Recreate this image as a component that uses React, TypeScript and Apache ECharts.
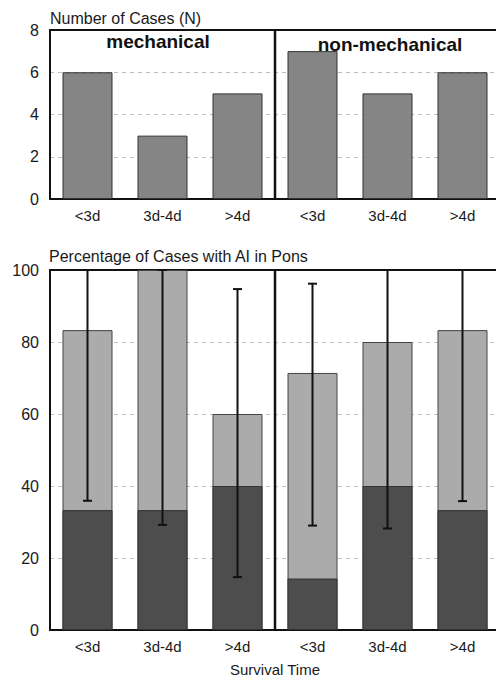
import React, { useEffect, useRef } from "react";
import * as echarts from "echarts";

const categories = ["<3d", "3d-4d", ">4d", "<3d", "3d-4d", ">4d"];
const groupLabels = ["mechanical", "non-mechanical"];
const groupSize = 3;
const caseCounts = [6, 3, 5, 7, 5, 6];
const pctTotal = [83.3, 100, 60, 71.4, 80, 83.3];
const pctPons = [33.3, 33.3, 40, 14.3, 40, 33.3];
const ciLow = [35.9, 29.2, 14.7, 29.0, 28.2, 35.8];
const ciHigh = [100, 100, 94.7, 96.2, 100, 100];
const topTicks = { min: 0, max: 8, interval: 2 };
const bottomTicks = { min: 0, max: 100, interval: 20 };

const FONT = "'Liberation Sans', Arial, sans-serif";

export default function App() {
  const ref = useRef<HTMLDivElement>(null);

  useEffect(() => {
    document.body.style.margin = "0";
    if (!ref.current) return;
    const chart = echarts.init(ref.current, undefined, { renderer: "svg" });

    const gridLine = { show: true, lineStyle: { color: "#bdbdbd", type: [4, 4] as any, width: 1 } };
    const xAxisBase = (gridIndex: number) => ({
      type: "category",
      gridIndex,
      data: categories,
      axisTick: { show: false },
      axisLine: { show: true, lineStyle: { color: "#111", width: 2 } },
      axisLabel: { color: "#1a1a1a", fontSize: 15, fontFamily: FONT, margin: 9 },
      splitLine: { show: false },
    });
    const topAxis = (gridIndex: number) => ({
      type: "category",
      gridIndex,
      position: "top",
      data: categories,
      axisTick: { show: false },
      axisLabel: { show: false },
      axisLine: { show: true, onZero: false, lineStyle: { color: "#111", width: 2 } },
      splitLine: { show: false },
    });
    const yAxisBase = (gridIndex: number, t: any) => ({
      type: "value",
      gridIndex,
      min: t.min,
      max: t.max,
      interval: t.interval,
      axisTick: { show: false },
      axisLine: { show: true, lineStyle: { color: "#111", width: 2 } },
      axisLabel: { color: "#1a1a1a", fontSize: 16, fontFamily: FONT, margin: 11 },
      splitLine: { ...gridLine, showMaxLine: false, showMinLine: false },
    });

    const dividerSeries = (axisIndex: number, t: any) => ({
      type: "custom",
      xAxisIndex: axisIndex,
      yAxisIndex: axisIndex,
      z: 4,
      silent: true,
      data: [[groupSize - 1, t.min, t.max]],
      encode: { x: 0, y: [1, 2] },
      renderItem: (_params: any, api: any) => {
        const bw = api.size([1, 0])[0];
        const a = api.coord([api.value(0), api.value(1)]);
        const b = api.coord([api.value(0), api.value(2)]);
        const x = a[0] + bw / 2;
        return {
          type: "line",
          shape: { x1: x, y1: a[1], x2: x, y2: b[1] },
          style: { stroke: "#111", lineWidth: 2.5 },
        };
      },
    });

    const titleStyle = { fontSize: 16, fontWeight: "normal", color: "#1a1a1a", fontFamily: FONT };

    chart.setOption({
      animation: false,
      backgroundColor: "#fff",
      title: [
        { text: "Number of Cases (N)", left: 50, top: 10, padding: 0, textStyle: titleStyle },
        { text: "Percentage of Cases with AI in Pons", left: 49, top: 248, padding: 0, textStyle: titleStyle },
      ],
      grid: [
        { left: 50, top: 30, width: 450, height: 169, outerBoundsMode: "none", containLabel: false },
        { left: 50, top: 270, width: 450, height: 360, outerBoundsMode: "none", containLabel: false },
      ],
      xAxis: [
        xAxisBase(0),
        {
          ...xAxisBase(1),
          name: "Survival Time",
          nameLocation: "middle",
          nameGap: 32,
          nameTextStyle: { fontSize: 15, color: "#1a1a1a", fontFamily: FONT },
        },
        topAxis(0),
        topAxis(1),
      ],
      yAxis: [yAxisBase(0, topTicks), yAxisBase(1, bottomTicks)],
      graphic: [
        {
          type: "text",
          x: 158,
          y: 41,
          z: 10,
          style: {
            text: groupLabels[0],
            fontSize: 19,
            fontWeight: "bold",
            fontFamily: FONT,
            fill: "#111",
            align: "center",
            verticalAlign: "middle",
          },
        },
        {
          type: "text",
          x: 390,
          y: 44,
          z: 10,
          style: {
            text: groupLabels[1],
            fontSize: 19,
            fontWeight: "bold",
            fontFamily: FONT,
            fill: "#111",
            align: "center",
            verticalAlign: "middle",
          },
        },
      ],
      series: [
        {
          type: "bar",
          xAxisIndex: 0,
          yAxisIndex: 0,
          data: caseCounts,
          barWidth: 50,
          itemStyle: { color: "#858585", borderColor: "#333", borderWidth: 1 },
        },
        {
          type: "bar",
          xAxisIndex: 1,
          yAxisIndex: 1,
          data: pctTotal,
          barWidth: 50,
          barGap: "-100%",
          itemStyle: { color: "#ababab", borderColor: "#444", borderWidth: 1 },
        },
        {
          type: "bar",
          xAxisIndex: 1,
          yAxisIndex: 1,
          data: pctPons,
          barWidth: 50,
          barGap: "-100%",
          itemStyle: { color: "#4d4d4d", borderColor: "#333", borderWidth: 1 },
        },
        dividerSeries(0, topTicks),
        dividerSeries(1, bottomTicks),
        {
          type: "custom",
          xAxisIndex: 1,
          yAxisIndex: 1,
          z: 5,
          data: categories.map((_, i) => [i, ciLow[i], ciHigh[i]]),
          encode: { x: 0, y: [1, 2] },
          renderItem: (_params: any, api: any) => {
            const x = api.value(0);
            const lo = api.coord([x, api.value(1)]);
            const hi = api.coord([x, api.value(2)]);
            const cap = 4.5;
            const style = { stroke: "#111", lineWidth: 2 };
            return {
              type: "group",
              children: [
                { type: "line", shape: { x1: lo[0], y1: lo[1], x2: hi[0], y2: hi[1] }, style },
                { type: "line", shape: { x1: lo[0] - cap, y1: lo[1], x2: lo[0] + cap, y2: lo[1] }, style },
                { type: "line", shape: { x1: hi[0] - cap, y1: hi[1], x2: hi[0] + cap, y2: hi[1] }, style },
              ],
            };
          },
        },
      ],
    });

    return () => chart.dispose();
  }, []);

  return <div ref={ref} style={{ width: 496, height: 679 }} />;
}
